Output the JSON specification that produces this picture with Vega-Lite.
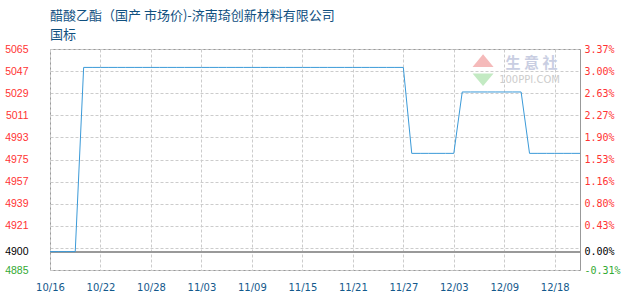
{
  "$schema": "https://vega.github.io/schema/vega-lite/v6.json",
  "autosize": "none",
  "width": 530,
  "height": 221,
  "padding": {"left": 50, "top": 49, "right": 50, "bottom": 30},
  "background": "#ffffff",
  "config": {
    "view": {"stroke": "#999999", "strokeWidth": 1},
    "axis": {"ticks": false, "domain": false, "tickSize": 0}
  },
  "title": {
    "text": "醋酸乙酯（国产 市场价)-济南琦创新材料有限公司",
    "subtitle": "国标",
    "anchor": "start",
    "frame": "group",
    "font": "Noto Sans CJK SC",
    "fontSize": 13,
    "fontWeight": "normal",
    "color": "#10507f",
    "subtitleFont": "Noto Sans CJK SC",
    "subtitleFontSize": 13,
    "subtitleColor": "#10507f",
    "subtitlePadding": 6,
    "offset": 2
  },
  "data": {
    "values": [
      {"date": "10/16", "price": 4900}, {"date": "10/17", "price": 4900}, {"date": "10/18", "price": 4900}, {"date": "10/19", "price": 4900},
      {"date": "10/20", "price": 5050}, {"date": "10/21", "price": 5050}, {"date": "10/22", "price": 5050}, {"date": "10/23", "price": 5050},
      {"date": "10/24", "price": 5050}, {"date": "10/25", "price": 5050}, {"date": "10/26", "price": 5050}, {"date": "10/27", "price": 5050},
      {"date": "10/28", "price": 5050}, {"date": "10/29", "price": 5050}, {"date": "10/30", "price": 5050}, {"date": "10/31", "price": 5050},
      {"date": "11/01", "price": 5050}, {"date": "11/02", "price": 5050}, {"date": "11/03", "price": 5050}, {"date": "11/04", "price": 5050},
      {"date": "11/05", "price": 5050}, {"date": "11/06", "price": 5050}, {"date": "11/07", "price": 5050}, {"date": "11/08", "price": 5050},
      {"date": "11/09", "price": 5050}, {"date": "11/10", "price": 5050}, {"date": "11/11", "price": 5050}, {"date": "11/12", "price": 5050},
      {"date": "11/13", "price": 5050}, {"date": "11/14", "price": 5050}, {"date": "11/15", "price": 5050}, {"date": "11/16", "price": 5050},
      {"date": "11/17", "price": 5050}, {"date": "11/18", "price": 5050}, {"date": "11/19", "price": 5050}, {"date": "11/20", "price": 5050},
      {"date": "11/21", "price": 5050}, {"date": "11/22", "price": 5050}, {"date": "11/23", "price": 5050}, {"date": "11/24", "price": 5050},
      {"date": "11/25", "price": 5050}, {"date": "11/26", "price": 5050}, {"date": "11/27", "price": 5050},
      {"date": "11/28", "price": 4980}, {"date": "11/29", "price": 4980}, {"date": "11/30", "price": 4980}, {"date": "12/01", "price": 4980},
      {"date": "12/02", "price": 4980}, {"date": "12/03", "price": 4980},
      {"date": "12/04", "price": 5030}, {"date": "12/05", "price": 5030}, {"date": "12/06", "price": 5030}, {"date": "12/07", "price": 5030},
      {"date": "12/08", "price": 5030}, {"date": "12/09", "price": 5030}, {"date": "12/10", "price": 5030}, {"date": "12/11", "price": 5030},
      {"date": "12/12", "price": 4980}, {"date": "12/15", "price": 4980}, {"date": "12/16", "price": 4980}, {"date": "12/18", "price": 4980},
      {"date": "12/19", "price": 4980}, {"date": "12/22", "price": 4980}, {"date": "12/23", "price": 4980}
    ]
  },
  "resolve": {"axis": {"x": "independent", "y": "independent"}},
  "layer": [
    {
      "mark": {"type": "rule", "color": "#999999", "strokeWidth": 1},
      "encoding": {
        "y": {
          "datum": 4900,
          "type": "quantitative",
          "scale": {"domain": [4885, 5065], "zero": false, "nice": false},
          "axis": {
            "orient": "right",
            "title": null,
            "grid": false,
            "values": [5065, 5047, 5029, 5011, 4993, 4975, 4957, 4939, 4921, 4900, 4885],
            "labelExpr": "datum.value < 4900 ? '-' + format((4900 - datum.value) / 49, '.2f') + '%' : format((datum.value - 4900) / 49, '.2f') + '%'",
            "labelFont": "DejaVu Sans Mono",
            "labelFontSize": 10,
            "labelPadding": 4,
            "labelOverlap": false,
            "labelFlush": false,
            "labelBound": false,
            "labelColor": {
              "condition": [
                {"test": "datum.value > 4900", "value": "#ff3333"},
                {"test": "datum.value < 4900", "value": "#33aa33"}
              ],
              "value": "#000000"
            }
          }
        }
      }
    },
    {
      "mark": {"type": "line", "color": "#3b9ad8", "strokeWidth": 1, "interpolate": "linear"},
      "encoding": {
        "x": {
          "field": "date",
          "type": "ordinal",
          "sort": null,
          "scale": {"type": "point", "padding": 0},
          "axis": {
            "title": null,
            "values": ["10/16", "10/22", "10/28", "11/03", "11/09", "11/15", "11/21", "11/27", "12/03", "12/09", "12/18"],
            "grid": true,
            "gridColor": "#cccccc",
            "gridDash": [3, 2],
            "labelAngle": 0,
            "labelFont": "DejaVu Sans",
            "labelFontSize": 10,
            "labelColor": "#13598c",
            "labelPadding": 12
          }
        },
        "y": {
          "field": "price",
          "type": "quantitative",
          "scale": {"domain": [4885, 5065], "zero": false, "nice": false},
          "axis": {
            "orient": "left",
            "title": null,
            "values": [5065, 5047, 5029, 5011, 4993, 4975, 4957, 4939, 4921, 4903, 4900, 4885],
            "labelExpr": "datum.value == 4903 ? '' : datum.label",
            "format": "d",
            "grid": true,
            "gridColor": "#cccccc",
            "gridDash": [3, 2],
            "gridOpacity": {"condition": {"test": "datum.value == 4900", "value": 0}, "value": 1},
            "labelFont": "Liberation Sans",
            "labelFontSize": 10.5,
            "labelPadding": 22,
            "labelOverlap": false,
            "labelFlush": false,
            "labelBound": false,
            "labelColor": {
              "condition": [
                {"test": "datum.value > 4900", "value": "#ff3333"},
                {"test": "datum.value < 4900", "value": "#33aa33"}
              ],
              "value": "#000000"
            }
          }
        }
      }
    },
    {
      "data": {"values": [{}]},
      "mark": {"type": "text", "font": "Noto Sans CJK SC", "fontSize": 15, "fontWeight": "bold", "color": "#c9cee2", "dx": 2},
      "encoding": {
        "x": {"datum": "12/12", "type": "ordinal", "axis": null},
        "y": {"datum": 5053.5, "type": "quantitative", "axis": null},
        "text": {"value": "生 意 社"}
      }
    },
    {
      "data": {"values": [{}]},
      "mark": {"type": "text", "font": "DejaVu Sans", "fontSize": 10, "color": "#cccccc"},
      "encoding": {
        "x": {"datum": "12/12", "type": "ordinal", "axis": null},
        "y": {"datum": 5039.5, "type": "quantitative", "axis": null},
        "text": {"value": "100PPI.COM"}
      }
    },
    {
      "data": {"values": [{}]},
      "mark": {"type": "point", "shape": "M-1,0.6L1,0.6L0,-0.6Z", "filled": true, "size": 441, "color": "#f5baba", "opacity": 1, "xOffset": 4},
      "encoding": {
        "x": {"datum": "12/06", "type": "ordinal", "axis": null},
        "y": {"datum": 5055.5, "type": "quantitative", "axis": null}
      }
    },
    {
      "data": {"values": [{}]},
      "mark": {"type": "point", "shape": "M-1,-0.6L1,-0.6L0,0.6Z", "filled": true, "size": 441, "color": "#c3eac3", "opacity": 1, "xOffset": 4},
      "encoding": {
        "x": {"datum": "12/06", "type": "ordinal", "axis": null},
        "y": {"datum": 5040, "type": "quantitative", "axis": null}
      }
    }
  ]
}
